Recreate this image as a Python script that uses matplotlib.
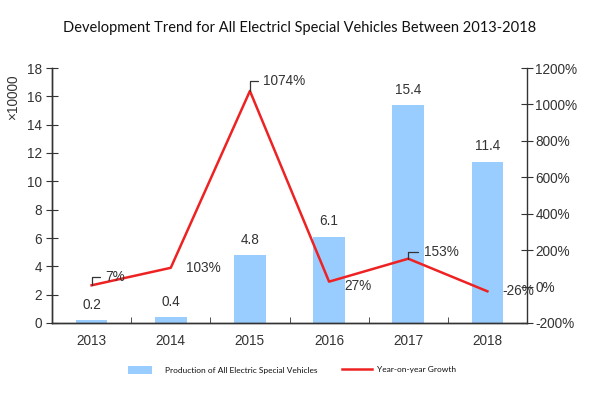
import matplotlib
matplotlib.use("Agg")
import matplotlib.pyplot as plt
from matplotlib.patches import Rectangle
from matplotlib.lines import Line2D
import numpy as np

years = ["2013", "2014", "2015", "2016", "2017", "2018"]
production = [0.2, 0.4, 4.8, 6.1, 15.4, 11.4]      # x10000 units
growth = [7, 103, 1074, 27, 153, -26]               # year-on-year, %
growth_labels = ["7%", "103%", "1074%", "27%", "153%", "-26%"]

BAR_COLOR = "#99CCFF"
LINE_COLOR = "#EE2222"
AXIS_COLOR = "#333333"
TEXT_COLOR = "#333333"

plt.rcParams["font.family"] = ["Liberation Sans", "DejaVu Sans"]

fig = plt.figure(figsize=(6, 4), dpi=100)
ax = fig.add_axes([0.0867, 0.1925, 0.7916, 0.6375])
ax2 = ax.twinx()

x = np.arange(len(years))
ax.bar(x, production, width=0.4, color=BAR_COLOR, zorder=2)
for xi, v in zip(x, production):
    ax.annotate(f"{v}", xy=(xi, v), xytext=(0, 6), textcoords="offset points",
                ha="center", va="bottom", fontsize=9.8, color=TEXT_COLOR)

ax2.plot(x, growth, color=LINE_COLOR, linewidth=1.8, zorder=3)

# label offsets (points) for the growth values; some have a small leader line
offsets = [(10, 6), (11, 0), (9.5, 7), (11, -3), (11, 4.5), (11, 0)]
leaders = [True, False, True, False, True, False]
for xi, g, lab, off, lead in zip(x, growth, growth_labels, offsets, leaders):
    props = None
    if lead:
        props = dict(arrowstyle="-", color=AXIS_COLOR, lw=0.9,
                     connectionstyle="angle,angleA=0,angleB=90,rad=0",
                     shrinkA=2, shrinkB=0)
    ax2.annotate(lab, xy=(xi, g), xytext=off, textcoords="offset points",
                 ha="left", va="center", fontsize=9.8, color=TEXT_COLOR, arrowprops=props)

ax.set_xlim(-0.5, 5.5)
ax.set_ylim(0, 18)
ax.set_yticks(range(0, 19, 2))
ax2.set_ylim(-200, 1200)
ax2.set_yticks(range(-200, 1201, 200))
ax2.set_yticklabels([f"{t}%" for t in range(-200, 1201, 200)])

ax.set_xticks(x)
ax.set_xticklabels(years)
ax.set_xticks(np.arange(0.5, 5.5, 1), minor=True)
ax.tick_params(axis="x", which="major", length=0, labelsize=9.8, colors=TEXT_COLOR, pad=8)
ax.tick_params(axis="x", which="minor", direction="in", length=4, color=AXIS_COLOR)
ax.tick_params(axis="y", direction="inout", length=8, labelsize=9.8, colors=TEXT_COLOR, pad=3)
ax2.tick_params(axis="y", direction="inout", length=8, labelsize=9.8, colors=TEXT_COLOR, pad=2)

for a in (ax, ax2):
    a.spines["top"].set_visible(False)
    for s in ("left", "right", "bottom"):
        a.spines[s].set_color(AXIS_COLOR)
        a.spines[s].set_linewidth(1.0)
ax.spines["right"].set_visible(False)

fig.text(0.022, 0.757, "×10000", rotation=90, ha="center", va="center", fontsize=9.8, color=TEXT_COLOR)

fig.text(0.5, 0.93, "Development Trend for All Electricl Special Vehicles Between 2013-2018",
         ha="center", va="center", fontsize=10.5, family="Lato", color="#111111")

# legend drawn by hand to match the spacing of the original
fig.add_artist(Rectangle((128 / 600, 0.065), 24 / 600, 0.02, transform=fig.transFigure,
                         facecolor=BAR_COLOR, edgecolor="none"))
fig.text(165 / 600, 0.075, "Production of All Electric Special Vehicles", ha="left", va="center",
         fontsize=6, family="Lato", color="#111111")
fig.add_artist(Line2D([342 / 600, 372 / 600], [0.077, 0.077], transform=fig.transFigure,
                      color=LINE_COLOR, linewidth=1.8))
fig.text(377 / 600, 0.077, "Year-on-year Growth", ha="left", va="center",
         fontsize=6, family="Lato", color="#111111")

fig.savefig("out.png", dpi=100)
